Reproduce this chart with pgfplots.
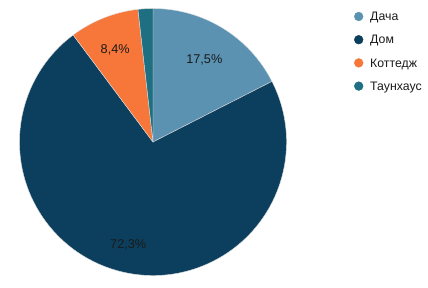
\documentclass[border=0pt]{standalone}
\usepackage{fontspec}
\setmainfont{Liberation Sans}
\usepackage{pgfplots}
\pgfplotsset{compat=1.18}
\definecolor{cDacha}{HTML}{5B92B2}
\definecolor{cDom}{HTML}{0C3F5D}
\definecolor{cKott}{HTML}{F7763A}
\definecolor{cTown}{HTML}{1E6F81}
\definecolor{txt}{HTML}{1A1A1A}
% values (percent)
\def\vA{17.5}\def\vB{72.3}\def\vC{8.4}\def\vD{1.8}
\pgfmathsetmacro\aA{90}
\pgfmathsetmacro\aB{\aA-\vA*3.6}
\pgfmathsetmacro\aC{\aB-\vB*3.6}
\pgfmathsetmacro\aD{\aC-\vC*3.6}
\pgfmathsetmacro\aE{\aD-\vD*3.6}
\def\R{133.5pt}
\newcommand\slice[3]{\fill[#3, draw=white!75!gray, line width=0.4pt] (axis cs:153,145) -- ++(#1:\R) arc[start angle=#1, end angle=#2, radius=\R] -- cycle;}
\begin{document}
\begin{tikzpicture}
\path[use as bounding box] (0,0) rectangle (428pt,287pt);
\begin{axis}[
  at={(0,0)}, anchor=south west,
  width=428pt, height=287pt, scale only axis,
  xmin=0, xmax=428, ymin=0, ymax=287,
  hide axis, clip=false,
]
\slice{\aA}{\aB}{cDacha}
\slice{\aB}{\aC}{cDom}
\slice{\aC}{\aD}{cKott}
\slice{\aD}{\aE}{cTown}
\node[txt, anchor=base, inner sep=0pt, font=\fontsize{12.7}{14}\selectfont] at (axis cs:204.3,223.7) {17,5\%};
\node[txt, anchor=base, inner sep=0pt, font=\fontsize{12.7}{14}\selectfont] at (axis cs:128.2,39.0) {72,3\%};
\node[txt, anchor=base, inner sep=0pt, font=\fontsize{12.7}{14}\selectfont] at (axis cs:115.2,233.3) {8,4\%};
% legend
\addplot[only marks, mark=*, mark size=4.4pt, cDacha] coordinates {(358.7,270.5)};
\addplot[only marks, mark=*, mark size=4.4pt, cDom] coordinates {(358.7,247.3)};
\addplot[only marks, mark=*, mark size=4.4pt, cKott] coordinates {(358.7,224.1)};
\addplot[only marks, mark=*, mark size=4.4pt, cTown] coordinates {(358.7,200.9)};
\node[txt, anchor=base west, inner sep=0pt, font=\fontsize{12.3}{14}\selectfont] at (axis cs:370,266.2) {Дача};
\node[txt, anchor=base west, inner sep=0pt, font=\fontsize{12.3}{14}\selectfont] at (axis cs:370,243.0) {Дом};
\node[txt, anchor=base west, inner sep=0pt, font=\fontsize{12.3}{14}\selectfont] at (axis cs:370,219.8) {Коттедж};
\node[txt, anchor=base west, inner sep=0pt, font=\fontsize{12.3}{14}\selectfont] at (axis cs:370,196.6) {Таунхаус};
\end{axis}
\end{tikzpicture}
\end{document}
